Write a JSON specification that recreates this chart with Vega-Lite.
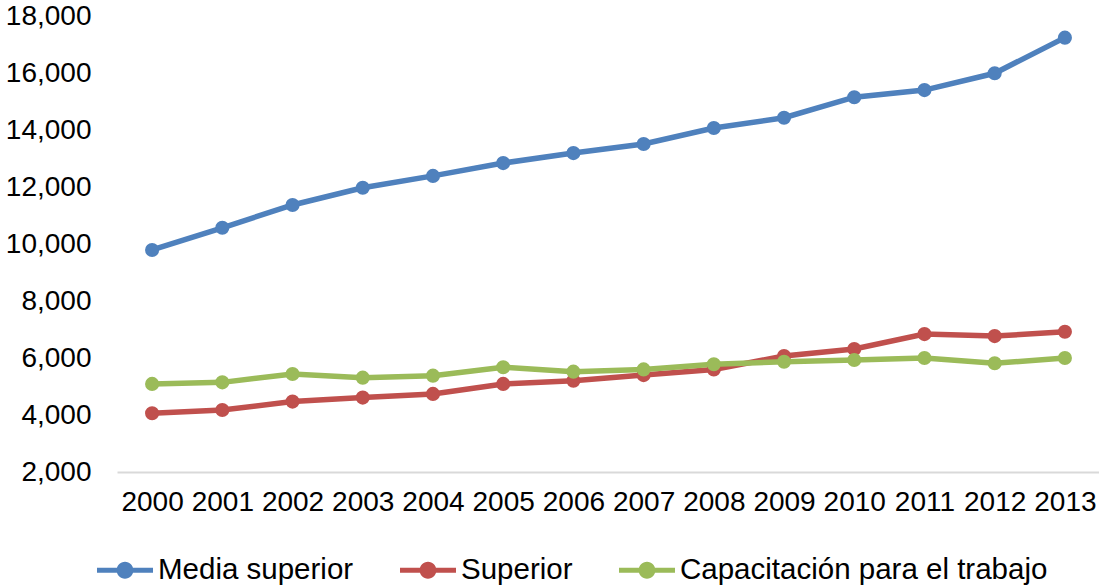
{
  "$schema": "https://vega.github.io/schema/vega-lite/v6.json",
  "autosize": "none",
  "padding": {"left": 117, "top": 16, "right": 0, "bottom": 114},
  "width": 983,
  "height": 456,
  "background": "white",
  "config": {
    "view": {"stroke": null},
    "font": "Liberation Sans",
    "axis": {"labelFont": "Liberation Sans", "labelColor": "#000000", "labelFontSize": 28, "title": null},
    "legend": {"labelFont": "Liberation Sans", "labelFontSize": 29.5, "labelColor": "#000000", "labelLimit": 500}
  },
  "data": {
    "values": [
      {"year": "2000", "serie": "Media superior", "value": 9790},
      {"year": "2001", "serie": "Media superior", "value": 10570},
      {"year": "2002", "serie": "Media superior", "value": 11370},
      {"year": "2003", "serie": "Media superior", "value": 11975},
      {"year": "2004", "serie": "Media superior", "value": 12390},
      {"year": "2005", "serie": "Media superior", "value": 12840},
      {"year": "2006", "serie": "Media superior", "value": 13190},
      {"year": "2007", "serie": "Media superior", "value": 13510},
      {"year": "2008", "serie": "Media superior", "value": 14070},
      {"year": "2009", "serie": "Media superior", "value": 14430},
      {"year": "2010", "serie": "Media superior", "value": 15150},
      {"year": "2011", "serie": "Media superior", "value": 15400},
      {"year": "2012", "serie": "Media superior", "value": 15990},
      {"year": "2013", "serie": "Media superior", "value": 17240},
      {"year": "2000", "serie": "Superior", "value": 4060},
      {"year": "2001", "serie": "Superior", "value": 4175},
      {"year": "2002", "serie": "Superior", "value": 4470},
      {"year": "2003", "serie": "Superior", "value": 4610},
      {"year": "2004", "serie": "Superior", "value": 4740},
      {"year": "2005", "serie": "Superior", "value": 5090},
      {"year": "2006", "serie": "Superior", "value": 5205},
      {"year": "2007", "serie": "Superior", "value": 5400},
      {"year": "2008", "serie": "Superior", "value": 5600},
      {"year": "2009", "serie": "Superior", "value": 6070},
      {"year": "2010", "serie": "Superior", "value": 6315},
      {"year": "2011", "serie": "Superior", "value": 6840},
      {"year": "2012", "serie": "Superior", "value": 6770},
      {"year": "2013", "serie": "Superior", "value": 6920},
      {"year": "2000", "serie": "Capacitación para el trabajo", "value": 5090},
      {"year": "2001", "serie": "Capacitación para el trabajo", "value": 5145},
      {"year": "2002", "serie": "Capacitación para el trabajo", "value": 5440},
      {"year": "2003", "serie": "Capacitación para el trabajo", "value": 5310},
      {"year": "2004", "serie": "Capacitación para el trabajo", "value": 5380},
      {"year": "2005", "serie": "Capacitación para el trabajo", "value": 5675},
      {"year": "2006", "serie": "Capacitación para el trabajo", "value": 5520},
      {"year": "2007", "serie": "Capacitación para el trabajo", "value": 5600},
      {"year": "2008", "serie": "Capacitación para el trabajo", "value": 5780},
      {"year": "2009", "serie": "Capacitación para el trabajo", "value": 5870},
      {"year": "2010", "serie": "Capacitación para el trabajo", "value": 5930},
      {"year": "2011", "serie": "Capacitación para el trabajo", "value": 6000},
      {"year": "2012", "serie": "Capacitación para el trabajo", "value": 5815},
      {"year": "2013", "serie": "Capacitación para el trabajo", "value": 6000}
    ]
  },
  "encoding": {
    "x": {
      "field": "year", "type": "ordinal",
      "scale": {"type": "point", "padding": 0.5},
      "axis": {"labelAngle": 0, "ticks": false, "domainColor": "#D9D9D9", "domainWidth": 2, "labelPadding": 16, "grid": false}
    },
    "y": {
      "field": "value", "type": "quantitative",
      "scale": {"domain": [2000, 18000], "nice": false, "zero": false},
      "axis": {"values": [2000, 4000, 6000, 8000, 10000, 12000, 14000, 16000, 18000], "format": ",d", "ticks": false, "domain": false, "grid": false, "labelPadding": 26}
    },
    "color": {
      "field": "serie", "type": "nominal",
      "scale": {"domain": ["Media superior", "Superior", "Capacitación para el trabajo"], "range": ["#4F81BD", "#C0504D", "#9BBB59"]},
      "legend": {
        "orient": "none", "legendX": -20, "legendY": 526, "direction": "horizontal", "title": null,
        "symbolType": "M-1,-0.09L1,-0.09L1,0.09L-1,0.09Z M-0.3,0A0.3,0.3,0,1,1,0.3,0A0.3,0.3,0,1,1,-0.3,0Z",
        "symbolSize": 3136, "symbolStrokeWidth": 0, "symbolOpacity": 1,
        "labelOffset": 5, "columnPadding": 46
      }
    }
  },
  "layer": [
    {"mark": {"type": "line", "strokeWidth": 5.5}},
    {"mark": {"type": "point", "filled": true, "size": 200, "opacity": 1}}
  ]
}
